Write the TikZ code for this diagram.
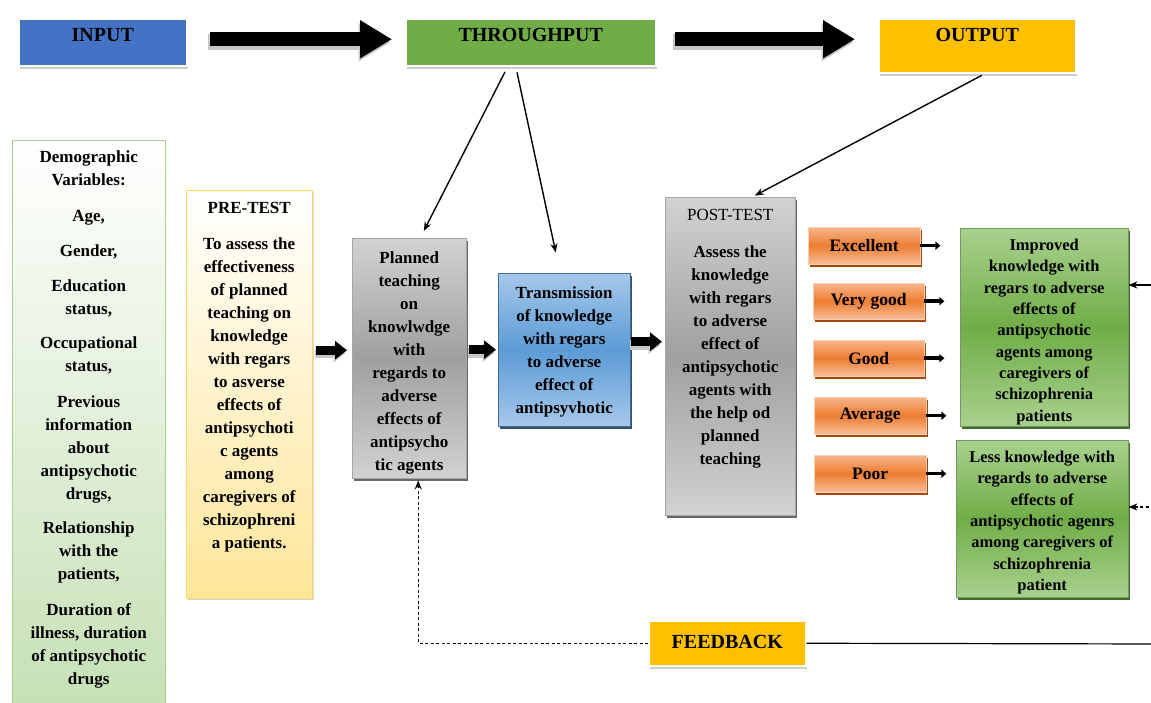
\documentclass[tikz,border=0pt]{standalone}
\usepackage{fontspec}
\setmainfont{Liberation Serif}
\usepackage{xcolor}
\usetikzlibrary{arrows.meta, positioning, calc, shadows}

\definecolor{inpblue}{HTML}{4472C4}
\definecolor{thrgreen}{HTML}{70AD47}
\definecolor{outgold}{HTML}{FFC000}
\definecolor{demogreen}{HTML}{C5E0B4}
\definecolor{demoline}{HTML}{A9D18E}
\definecolor{preyellow}{HTML}{FFE699}
\definecolor{preline}{HTML}{FFD966}
\definecolor{grylight}{HTML}{D2D2D2}
\definecolor{grydark}{HTML}{A0A0A0}
\definecolor{bluelight}{HTML}{A7C8EB}
\definecolor{bluedark}{HTML}{5B9BD5}
\definecolor{orglight}{HTML}{F6A26C}
\definecolor{orgdark}{HTML}{ED7D31}
\definecolor{orgshadow}{HTML}{A5480C}
\definecolor{grnlight}{HTML}{A9D18E}
\definecolor{grndark}{HTML}{70AD47}
\definecolor{grnshadow}{HTML}{3E6B26}

% box text: height, width, top padding, lines
\newcommand{\boxtxt}[4]{\parbox[t][#1pt][t]{#2pt}{\vspace*{#3pt}\centering #4\par}}

\begin{document}
\begin{tikzpicture}[x=1pt, y=-1pt,
    every node/.style={inner sep=0pt, anchor=north west},
    hdr/.style={draw=white, line width=1.5pt, font=\fontsize{20}{24}\selectfont\bfseries,
        drop shadow={shadow xshift=1pt, shadow yshift=-3pt, fill=black!40, opacity=0.5}},
    bodytxt/.style={font=\fontsize{17}{23}\selectfont\bfseries},
    graybox/.style={bodytxt, draw=black!35, top color=grylight, bottom color=grylight, middle color=grydark,
        drop shadow={shadow xshift=2pt, shadow yshift=-3pt, fill=black!75, opacity=0.8}},
    bluebox/.style={bodytxt, draw=bluedark!70!black, top color=bluelight, bottom color=bluelight, middle color=bluedark,
        drop shadow={shadow xshift=2pt, shadow yshift=-3pt, fill=bluedark!40!black, opacity=0.9}},
    grade/.style={draw=orglight!50!white, top color=orglight!80!white, bottom color=orglight!70!white, middle color=orgdark,
        font=\fontsize{17.5}{20}\selectfont\bfseries,
        drop shadow={shadow xshift=2pt, shadow yshift=-3pt, fill=orgshadow, opacity=1}},
    result/.style={draw=grnshadow!70, top color=grnlight, bottom color=grnlight, middle color=grndark,
        font=\fontsize{16.5}{21.3}\selectfont\bfseries,
        drop shadow={shadow xshift=2pt, shadow yshift=-3pt, fill=grnshadow, opacity=1}},
    halo/.style={preaction={draw=black!22, line width=#1, transform canvas={shift={(-1.5pt,-3pt)}}}},
    blockarr/.style={line width=14pt, -{Triangle[length=32pt,width=36pt]}, halo=16pt},
    midarr/.style={line width=9pt, -{Triangle[length=12pt,width=18pt]}, halo=10pt},
    thinarr/.style={line width=1.4pt, -{Stealth[length=9pt,width=7pt]}},
    fbdash/.style={dash pattern=on 3pt off 2.5pt},
    stub/.style={line width=3.5pt, -{Triangle[length=5pt,width=8pt]}}
]
\useasboundingbox (0,0) rectangle (1151,702);

% top row
\node[hdr, fill=inpblue] (input) at (18,18) {\boxtxt{47}{168}{10}{INPUT}};
\node[hdr, fill=thrgreen] (through) at (405,18) {\boxtxt{47}{250}{10}{THROUGHPUT}};
\node[hdr, fill=outgold] (output) at (878,18) {\boxtxt{54}{197}{10}{OUTPUT}};

% input side
\node[bodytxt, draw=demoline, top color=white, bottom color=demogreen] (demo) at (12,140)
    {\boxtxt{575}{153}{11}{Demographic\\Variables:\\[12pt] Age,\\[12pt] Gender,\\[12pt] Education\\status,\\[12pt]
    Occupational\\status,\\[12pt] Previous\\information\\about\\antipsychotic\\drugs,\\[12pt]
    Relationship\\with the\\patients,\\[12pt] Duration of\\illness, duration\\of antipsychotic\\drugs}};
\node[bodytxt, draw=preline, top color=white, bottom color=preyellow,
    drop shadow={shadow xshift=2pt, shadow yshift=-2pt, fill=black!30, opacity=0.5}] (pre) at (186,190)
    {\boxtxt{408}{126}{12}{PRE-TEST\\[13pt] To assess the\\effectiveness\\of planned\\teaching on\\knowledge\\with regars\\to asverse\\effects of\\antipsychoti\\c agents\\among\\caregivers of\\schizophreni\\a patients.}};

% throughput
\node[graybox] (planned) at (352,238)
    {\boxtxt{240}{114}{13}{Planned\\teaching\\on\\knowlwdge\\with\\regards to\\adverse\\effects of\\antipsycho\\tic agents}};
\node[bluebox] (trans) at (498,273)
    {\boxtxt{153}{132}{13}{Transmission\\of knowledge\\with regars\\to adverse\\effect of\\antipsyvhotic}};

% output
\node[graybox] (post) at (665,197)
    {\boxtxt{318}{130}{12}{{\mdseries POST-TEST}\\[14pt] Assess the\\knowledge\\with regars\\to adverse\\effect of\\antipsychotic\\agents with\\the help od\\planned\\teaching}};
\node[grade, minimum width=112, minimum height=37] (exc) at (808,227) {Excellent};
\node[grade, minimum width=111, minimum height=36] (vgood) at (813,283) {Very good};
\node[grade, minimum width=111, minimum height=36] (good) at (813,340) {Good};
\node[grade, minimum width=112, minimum height=37] (avg) at (814,397) {Average};
\node[grade, minimum width=112, minimum height=37] (poor) at (814,455) {Poor};
\node[result] (improved) at (960,228)
    {\boxtxt{198}{168}{11}{Improved\\knowledge with\\regars to adverse\\effects of\\antipsychotic\\agents among\\caregivers of\\schizophrenia\\patients}};
\node[result] (less) at (956,440)
    {\boxtxt{157}{172}{11}{Less knowledge with\\regards to adverse\\effects of\\antipsychotic agenrs\\among caregivers of\\schizophrenia\\patient}};

\node[hdr, fill=outgold] (feedback) at (648,620) {\boxtxt{45}{157}{14}{FEEDBACK}};

% free ends at the right edge
\coordinate (fbend) at (1165,644);
\coordinate (impsrc) at (1165,285);
\coordinate (lesssrc) at (1165,507);
\coordinate (toparr) at ([yshift=3pt]input.east);
\coordinate (prearr) at ([yshift=8pt]planned.west);
\coordinate (postarr) at ([yshift=8pt]trans.east);

% block arrows
\draw[blockarr, shorten <=22pt, shorten >=13pt] (toparr) -- (toparr -| through.west);
\draw[blockarr, shorten <=18pt, shorten >=23pt] (toparr -| through.east) -- (toparr -| output.west);
\draw[midarr, shorten <=4pt, shorten >=5pt] (pre.east |- prearr) -- (prearr);
\draw[midarr, shorten <=3pt, shorten >=2pt] (planned.east |- trans.west) -- (trans.west);
\draw[midarr, shorten <=1pt, shorten >=3pt] (postarr) -- (postarr -| post.west);

% thin arrows
\draw[thinarr, shorten <=6pt, shorten >=8pt] ([xshift=-23pt]through.south) -- ([xshift=11pt]planned.north);
\draw[thinarr, shorten <=6pt, shorten >=21pt] ([xshift=-15pt]through.south) -- ([xshift=-4pt]trans.north);
\draw[thinarr, shorten <=4pt, shorten >=3pt] ([xshift=8pt]output.south) -- ([xshift=22pt]post.north);
\foreach \g in {exc, vgood, good, avg, poor}
    \draw[stub] (\g.east) -- ++(20,0);

% feedback loop
\draw[line width=1.2pt] (feedback.east) -- (fbend);
\draw[thinarr, fbdash, shorten >=2pt] (feedback.west) -| ([xshift=9pt]planned.south);
\draw[thinarr] (impsrc) -- (impsrc -| improved.east);
\draw[thinarr, fbdash] (lesssrc) -- (lesssrc -| less.east);
\end{tikzpicture}
\end{document}
